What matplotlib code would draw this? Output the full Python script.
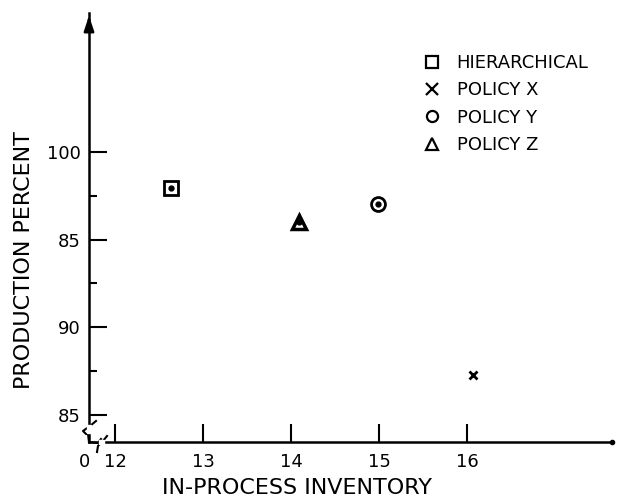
import matplotlib
matplotlib.use("Agg")
import matplotlib.pyplot as plt
from matplotlib.lines import Line2D

# valores
politicas = ["HIERARCHICAL", "POLICY X", "POLICY Y", "POLICY Z"]
inventario = [12.63, 16.07, 14.99, 14.09]
produccion = [97.95, 87.3, 97.0, 96.0]
marcadores = ["s", "x", "o", "^"]
con_punto = [True, False, True, True]

y_ticks = [85, 90, 95, 100]
y_etiquetas = ["85", "90", "85", "100"]
y_menores = [87.5, 92.5, 97.5]
x_ticks = [12, 13, 14, 15, 16]

W, H = 626, 498
fig = plt.figure(figsize=(W / 100, H / 100), dpi=100)
# ejes colocados a mano segun el pixel del original
x0, x1, y0, y1 = 89, 612, 442, 13
ax = fig.add_axes([x0 / W, 1 - y0 / H, (x1 - x0) / W, (y0 - y1) / H])
ax.set_xlim(11.70, 17.65)
ax.set_ylim(83.47, 107.9)

for s in ["top", "right"]:
    ax.spines[s].set_visible(False)
for s in ["left", "bottom"]:
    ax.spines[s].set_linewidth(1.8)

ax.set_xticks(x_ticks)
ax.set_xticklabels([str(t) for t in x_ticks])
ax.set_yticks(y_ticks)
ax.set_yticklabels(y_etiquetas)
ax.set_yticks(y_menores, minor=True)
ax.tick_params(axis="both", which="major", direction="in", length=13, width=1.5,
               labelsize=13, pad=6)
ax.tick_params(axis="x", pad=8)
ax.tick_params(axis="y", which="minor", direction="in", length=6, width=1.5)

# flecha del eje y
ax.annotate("", xy=(0, 1.0), xytext=(0, 0.97), xycoords="axes fraction",
            arrowprops=dict(arrowstyle="-|>,head_length=0.9,head_width=0.3",
                            color="black", lw=1.8))
ax.plot([1.0], [0.0], marker="o", ms=3, color="black", transform=ax.transAxes,
        clip_on=False)

# marcas de corte de los ejes (en pixeles de figura)
def linea_px(xs, ys):
    fig.add_artist(Line2D([x / W for x in xs], [1 - y / H for y in ys],
                          color="black", lw=1.5))

# tapar el eje en las zonas cortadas
fig.add_artist(plt.Rectangle((87 / W, 1 - 433 / H), 4 / W, 8 / H, color="white",
                             zorder=5))
fig.add_artist(plt.Rectangle((99 / W, 1 - 444 / H), 5 / W, 4 / H, color="white",
                             zorder=5))
linea_px([96, 90, 83, 86, 89], [421, 426, 431, 434, 434])
linea_px([88, 89], [434, 442])
linea_px([89, 98, 101], [442, 443, 439])
linea_px([107, 103, 98, 97], [436, 441, 446, 452])

fig.text(84 / W, 1 - 462 / H, "0", ha="center", va="center", fontsize=13)

for x, y, m, lab, p in zip(inventario, produccion, marcadores, politicas, con_punto):
    if m == "x":
        ax.plot(x, y, m, ms=6, mew=2, color="black", label=lab)
    elif m == "^":
        ax.plot(x, y, m, ms=9.5, mew=2.5, mfc="white", mec="black", label=lab)
    else:
        ax.plot(x, y, m, ms=10, mew=2, mfc="white", mec="black", label=lab)
    if p:
        ax.plot(x, y, "o", ms=3.5, color="black")

leg = ax.legend(loc="upper left", bbox_to_anchor=(426 / W, 1 - 54 / H),
                bbox_transform=fig.transFigure, frameon=False, fontsize=13,
                handlelength=0.7, handletextpad=1.0, labelspacing=0.52,
                borderpad=0, borderaxespad=0)
for h in leg.legend_handles:
    h.set_markersize(8)
    h.set_markeredgewidth(1.6)

ax.set_xlabel("IN-PROCESS INVENTORY", fontsize=16)
ax.xaxis.set_label_coords(0.398, -0.107)
ax.set_ylabel("PRODUCTION PERCENT", fontsize=16)
ax.yaxis.set_label_coords(-0.124, 0.424)
ax.xaxis.label.set_va("center")
ax.yaxis.label.set_va("center")

fig.savefig("out.png", dpi=100)
